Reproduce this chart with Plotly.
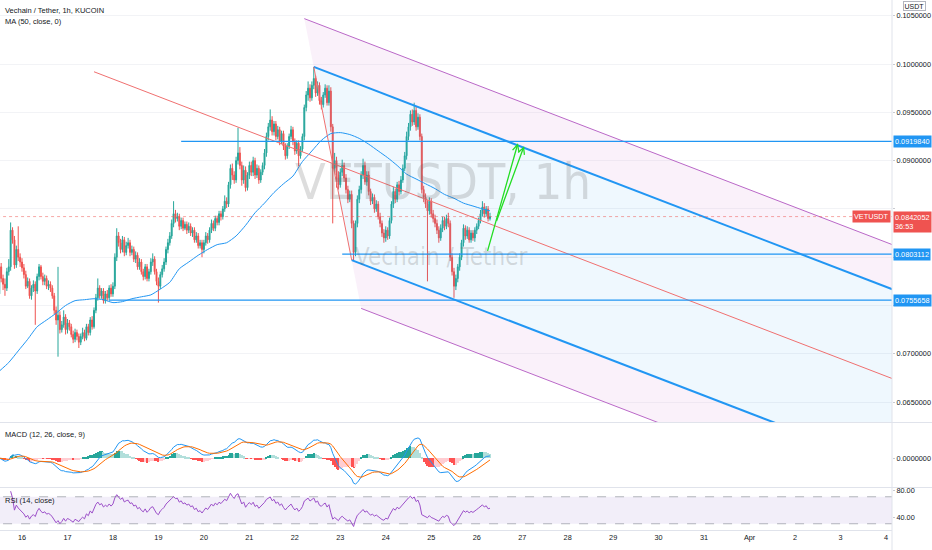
import pandas as pd
import plotly.graph_objects as go

# ---------------- data ----------------
bar_start = "2021-03-15 12:00"   # first hourly candle
first_open = 0.0762

closes = [
    0.0790, 0.0778, 0.0772, 0.0768, 0.0785, 0.0790, 0.0828, 0.0818, 0.0792, 0.0808, 0.0800, 0.0795,
    0.0789, 0.0782, 0.0770, 0.0775, 0.0760, 0.0768, 0.0772, 0.0765, 0.0780, 0.0790, 0.0780, 0.0775,
    0.0778, 0.0770, 0.0772, 0.0768, 0.0760, 0.0745, 0.0735, 0.0740, 0.0725, 0.0730, 0.0738, 0.0725,
    0.0732, 0.0728, 0.0720, 0.0715, 0.0722, 0.0718, 0.0712, 0.0718, 0.0722, 0.0716, 0.0728, 0.0722,
    0.0735, 0.0728, 0.0745, 0.0758, 0.0768, 0.0760, 0.0765, 0.0755, 0.0762, 0.0758, 0.0768, 0.0762,
    0.0770, 0.0800, 0.0822, 0.0815, 0.0808, 0.0818, 0.0805, 0.0812, 0.0815, 0.0805, 0.0808, 0.0798,
    0.0802, 0.0790, 0.0795, 0.0785, 0.0780, 0.0790, 0.0778, 0.0785, 0.0795, 0.0798, 0.0785, 0.0775,
    0.0770, 0.0782, 0.0788, 0.0795, 0.0808, 0.0815, 0.0822, 0.0835, 0.0845, 0.0840, 0.0842, 0.0832,
    0.0838, 0.0830, 0.0834, 0.0828, 0.0832, 0.0825, 0.0828, 0.0818, 0.0822, 0.0812, 0.0815, 0.0808,
    0.0815, 0.0822, 0.0818, 0.0828, 0.0835, 0.0830, 0.0840, 0.0836, 0.0845, 0.0842, 0.0850, 0.0858,
    0.0855, 0.0875, 0.0892, 0.0885, 0.0880, 0.0900, 0.0908, 0.0895, 0.0880, 0.0890, 0.0872, 0.0885,
    0.0895, 0.0888, 0.0900, 0.0885, 0.0892, 0.0880, 0.0888, 0.0895, 0.0908, 0.0925, 0.0935, 0.0942,
    0.0930, 0.0938, 0.0925, 0.0932, 0.0920, 0.0928, 0.0915, 0.0905, 0.0915, 0.0925, 0.0932, 0.0920,
    0.0910, 0.0918, 0.0905, 0.0912, 0.0925, 0.0955, 0.0968, 0.0975, 0.0965, 0.0978, 0.0985, 0.0970,
    0.0978, 0.0962, 0.0958, 0.0968, 0.0975, 0.0960, 0.0972, 0.0935, 0.0892, 0.0900, 0.0885, 0.0875,
    0.0888, 0.0895, 0.0882, 0.0870, 0.0860, 0.0865, 0.0835, 0.0805, 0.0835, 0.0860, 0.0870, 0.0885,
    0.0895, 0.0878, 0.0885, 0.0868, 0.0858, 0.0862, 0.0850, 0.0855, 0.0842, 0.0835, 0.0825, 0.0820,
    0.0828, 0.0822, 0.0838, 0.0855, 0.0868, 0.0860, 0.0875, 0.0868, 0.0880, 0.0892, 0.0905, 0.0925,
    0.0935, 0.0948, 0.0940, 0.0952, 0.0935, 0.0945, 0.0925, 0.0870, 0.0862, 0.0855, 0.0848, 0.0858,
    0.0845, 0.0840, 0.0835, 0.0828, 0.0820, 0.0830, 0.0838, 0.0832, 0.0840, 0.0835, 0.0800, 0.0785,
    0.0770, 0.0778, 0.0790, 0.0800, 0.0815, 0.0830, 0.0822, 0.0828, 0.0818, 0.0825, 0.0820, 0.0828,
    0.0832, 0.0838, 0.0845, 0.0852, 0.0845, 0.0850, 0.0840, 0.0842052,
]
highs = [
    0.0797, 0.0794, 0.0782, 0.0778, 0.0789, 0.0798, 0.0836, 0.0831, 0.0822, 0.0812, 0.0832, 0.0804,
    0.0799, 0.0793, 0.0786, 0.0779, 0.0778, 0.0771, 0.0776, 0.0775, 0.0783, 0.0793, 0.0792, 0.0784,
    0.0782, 0.0781, 0.0776, 0.0775, 0.0771, 0.0763, 0.0749, 0.0790, 0.0744, 0.0734, 0.0745, 0.0741,
    0.0736, 0.0735, 0.0731, 0.0724, 0.0726, 0.0725, 0.0721, 0.0721, 0.0727, 0.0725, 0.0731, 0.0731,
    0.0738, 0.0739, 0.0748, 0.0762, 0.0778, 0.0771, 0.0768, 0.0768, 0.0765, 0.0766, 0.0771, 0.0772,
    0.0774, 0.0804, 0.0830, 0.0826, 0.0819, 0.0822, 0.0821, 0.0816, 0.0820, 0.0818, 0.0812, 0.0811,
    0.0806, 0.0805, 0.0799, 0.0798, 0.0788, 0.0793, 0.0793, 0.0788, 0.0799, 0.0804, 0.0801, 0.0788,
    0.0779, 0.0785, 0.0792, 0.0799, 0.0811, 0.0819, 0.0826, 0.0839, 0.0858, 0.0849, 0.0846, 0.0845,
    0.0841, 0.0841, 0.0837, 0.0837, 0.0836, 0.0835, 0.0831, 0.0831, 0.0826, 0.0825, 0.0818, 0.0818,
    0.0818, 0.0826, 0.0825, 0.0831, 0.0839, 0.0838, 0.0843, 0.0843, 0.0848, 0.0848, 0.0853, 0.0864,
    0.0862, 0.0878, 0.0896, 0.0897, 0.0889, 0.0904, 0.0934, 0.0914, 0.0899, 0.0895, 0.0894, 0.0888,
    0.0899, 0.0899, 0.0904, 0.0903, 0.0896, 0.0895, 0.0891, 0.0898, 0.0912, 0.0929, 0.0939, 0.0953,
    0.0946, 0.0941, 0.0941, 0.0936, 0.0935, 0.0931, 0.0931, 0.0918, 0.0918, 0.0928, 0.0936, 0.0935,
    0.0923, 0.0921, 0.0921, 0.0915, 0.0928, 0.0958, 0.0972, 0.0982, 0.0979, 0.0982, 0.0997, 0.0988,
    0.0982, 0.0981, 0.0966, 0.0971, 0.0979, 0.0978, 0.0978, 0.0976, 0.0938, 0.0908, 0.0904, 0.0889,
    0.0892, 0.0901, 0.0898, 0.0886, 0.0874, 0.0869, 0.0869, 0.0838, 0.0838, 0.0864, 0.0874, 0.0889,
    0.0902, 0.0899, 0.0889, 0.0889, 0.0871, 0.0866, 0.0865, 0.0859, 0.0858, 0.0846, 0.0838, 0.0829,
    0.0832, 0.0831, 0.0841, 0.0858, 0.0873, 0.0871, 0.0878, 0.0879, 0.0884, 0.0896, 0.0909, 0.0930,
    0.0939, 0.0952, 0.0953, 0.0960, 0.0956, 0.0949, 0.0948, 0.0928, 0.0874, 0.0866, 0.0859, 0.0862,
    0.0861, 0.0849, 0.0844, 0.0839, 0.0832, 0.0834, 0.0842, 0.0842, 0.0844, 0.0846, 0.0838, 0.0804,
    0.0789, 0.0782, 0.0793, 0.0804, 0.0818, 0.0834, 0.0833, 0.0832, 0.0831, 0.0828, 0.0828, 0.0831,
    0.0835, 0.0841, 0.0849, 0.0858, 0.0856, 0.0853, 0.0853, 0.0846,
]
lows = [
    0.0745, 0.0774, 0.0766, 0.0760, 0.0765, 0.0781, 0.0786, 0.0814, 0.0788, 0.0789, 0.0796, 0.0790,
    0.0785, 0.0778, 0.0767, 0.0768, 0.0757, 0.0756, 0.0764, 0.0730, 0.0762, 0.0776, 0.0777, 0.0771,
    0.0771, 0.0767, 0.0766, 0.0764, 0.0757, 0.0741, 0.0730, 0.0697, 0.0721, 0.0722, 0.0727, 0.0720,
    0.0721, 0.0724, 0.0717, 0.0711, 0.0712, 0.0714, 0.0706, 0.0709, 0.0715, 0.0713, 0.0714, 0.0719,
    0.0719, 0.0725, 0.0726, 0.0742, 0.0755, 0.0757, 0.0757, 0.0752, 0.0752, 0.0755, 0.0755, 0.0759,
    0.0759, 0.0767, 0.0796, 0.0811, 0.0804, 0.0805, 0.0801, 0.0802, 0.0809, 0.0801, 0.0802, 0.0795,
    0.0794, 0.0787, 0.0787, 0.0782, 0.0776, 0.0777, 0.0775, 0.0775, 0.0782, 0.0791, 0.0782, 0.0771,
    0.0753, 0.0767, 0.0779, 0.0785, 0.0792, 0.0804, 0.0812, 0.0819, 0.0831, 0.0836, 0.0837, 0.0828,
    0.0829, 0.0827, 0.0828, 0.0824, 0.0825, 0.0822, 0.0821, 0.0815, 0.0815, 0.0809, 0.0809, 0.0800,
    0.0804, 0.0812, 0.0814, 0.0815, 0.0825, 0.0827, 0.0827, 0.0833, 0.0833, 0.0838, 0.0839, 0.0847,
    0.0851, 0.0852, 0.0871, 0.0880, 0.0876, 0.0877, 0.0896, 0.0891, 0.0874, 0.0876, 0.0868, 0.0869,
    0.0881, 0.0884, 0.0884, 0.0881, 0.0882, 0.0876, 0.0877, 0.0885, 0.0891, 0.0904, 0.0921, 0.0931,
    0.0926, 0.0926, 0.0921, 0.0922, 0.0916, 0.0917, 0.0911, 0.0901, 0.0902, 0.0912, 0.0922, 0.0916,
    0.0906, 0.0907, 0.0894, 0.0902, 0.0909, 0.0921, 0.0951, 0.0962, 0.0961, 0.0962, 0.0974, 0.0966,
    0.0967, 0.0958, 0.0953, 0.0955, 0.0965, 0.0957, 0.0957, 0.0930, 0.0835, 0.0888, 0.0872, 0.0870,
    0.0872, 0.0884, 0.0878, 0.0866, 0.0856, 0.0857, 0.0830, 0.0797, 0.0801, 0.0831, 0.0856, 0.0866,
    0.0881, 0.0875, 0.0874, 0.0864, 0.0854, 0.0855, 0.0846, 0.0847, 0.0839, 0.0831, 0.0821, 0.0815,
    0.0816, 0.0818, 0.0819, 0.0835, 0.0851, 0.0856, 0.0857, 0.0864, 0.0865, 0.0877, 0.0889, 0.0901,
    0.0921, 0.0931, 0.0936, 0.0937, 0.0931, 0.0932, 0.0921, 0.0866, 0.0857, 0.0851, 0.0775, 0.0844,
    0.0841, 0.0836, 0.0831, 0.0824, 0.0815, 0.0817, 0.0826, 0.0828, 0.0829, 0.0831, 0.0796, 0.0781,
    0.0758, 0.0766, 0.0774, 0.0786, 0.0797, 0.0811, 0.0818, 0.0819, 0.0815, 0.0815, 0.0817, 0.0816,
    0.0824, 0.0829, 0.0835, 0.0842, 0.0841, 0.0842, 0.0837, 0.0838,
]

# MA(50) line, at every 5th candle plus the last one
ma50_bars = list(range(0, 256, 5)) + [259]
ma50 = [
    0.0682, 0.0691, 0.0703, 0.0715, 0.0728, 0.0735, 0.0742, 0.0750, 0.0755, 0.0756,
    0.0757, 0.0756, 0.0753, 0.0754, 0.0757, 0.0759, 0.0761, 0.0767, 0.0774, 0.0788,
    0.0795, 0.0802, 0.0808, 0.0813, 0.0815, 0.0822, 0.0833, 0.0846, 0.0856, 0.0867,
    0.0876, 0.0884, 0.0899, 0.0910, 0.0921, 0.0928, 0.0929, 0.0927, 0.0923, 0.0917,
    0.0910, 0.0903, 0.0895, 0.0886, 0.0881, 0.0876, 0.0871, 0.0865, 0.0861, 0.0856,
    0.0853, 0.0850, 0.0848,
]

day_ticks = pd.date_range("2021-03-16", "2021-04-04", freq="D")
day_labels = ["16", "17", "18", "19", "20", "21", "22", "23", "24", "25", "26",
              "27", "28", "29", "30", "31", "Apr", "2", "3", "4"]
price_ticks = [0.065, 0.070, 0.075, 0.080, 0.085, 0.090, 0.095, 0.100, 0.105]
price_hidden = [0.075, 0.080, 0.085]   # covered by the coloured price labels

last_price = 0.0842052
countdown = "36:53"
hlevels = [0.0919840, 0.0803112, 0.0755658]
hlevel_start = ["2021-03-19 12:00", "2021-03-23 01:00", "2021-03-17 22:00"]

# Andrews pitchfork anchors
pf_times = ["2021-03-17 14:00", "2021-03-22 10:00", "2021-03-23 06:00"]
pf_prices = [0.0992, 0.0997, 0.0797]

# green arrows (tail -> head)
arrow_tail_t = ["2021-03-26 05:30", "2021-03-26 10:10"]
arrow_tail_p = [0.0805, 0.0836]
arrow_head_t = ["2021-03-26 21:45", "2021-03-27 01:00"]
arrow_head_p = [0.0918, 0.0915]

x_view = ["2021-03-15 12:23", "2021-04-04 03:11"]

# ---------------- derived ----------------
t_start = pd.Timestamp(bar_start)
times = pd.date_range(t_start, periods=len(closes), freq="h")
opens = [first_open] + closes[:-1]
ma_times = [times[i] for i in ma50_bars]

s = pd.Series(closes)
macd = s.ewm(span=12, adjust=False).mean() - s.ewm(span=26, adjust=False).mean()
signal = macd.ewm(span=9, adjust=False).mean()
hist = macd - signal
hist_cols = []
for i, h in enumerate(hist):
    prev = hist[i - 1] if i > 0 else h
    if h >= 0:
        hist_cols.append("#26a69a" if h >= prev else "#b2dfdb")
    else:
        hist_cols.append("#ff5252" if h < prev else "#ffcdd2")

d = s.diff()
gain = d.clip(lower=0).ewm(alpha=1 / 14, adjust=True, min_periods=6).mean()
loss = (-d.clip(upper=0)).ewm(alpha=1 / 14, adjust=True, min_periods=6).mean()
rsi = 100 - 100 / (1 + gain / loss)


def hrs(ts):
    return (pd.Timestamp(ts) - t_start) / pd.Timedelta(hours=1)


def at(h):
    return t_start + pd.Timedelta(hours=h)


FONT = "Liberation Sans, Arial, sans-serif"
WFONT = "DejaVu Sans Condensed, Liberation Sans, sans-serif"
BLUE = "#2196f3"
PURPLE = "#ba68c8"
RED = "#ef5350"
TEAL = "#26a69a"

fig = go.Figure()

# ---- pitchfork (fills first) ----
t1, t2, t3 = [hrs(t) for t in pf_times]
p1, p2, p3 = pf_prices
tm, pm = (t2 + t3) / 2, (p2 + p3) / 2
slope = (pm - p1) / (tm - t1)
t_far = hrs("2021-04-06")


def pf_line(k):
    ts_ = tm + k * (t2 - tm)
    ps_ = pm + k * (p2 - pm)
    return ts_, ps_, t_far, ps_ + slope * (t_far - ts_)


bands = [(1.5, 1.0, "rgba(225,170,225,0.16)"),
         (1.0, -1.0, "rgba(33,150,243,0.07)"),
         (-1.0, -1.5, "rgba(225,170,225,0.16)")]
for ka, kb, col in bands:
    a = pf_line(ka)
    b = pf_line(kb)
    fig.add_trace(go.Scatter(
        x=[at(a[0]), at(a[2]), at(b[2]), at(b[0]), at(a[0])],
        y=[a[1], a[3], b[3], b[1], a[1]],
        fill="toself", fillcolor=col, mode="none",
        hoverinfo="skip", showlegend=False))

# ---- candles ----
fig.add_trace(go.Candlestick(
    x=times, open=opens, high=highs, low=lows, close=closes,
    increasing=dict(line=dict(color=TEAL, width=1), fillcolor=TEAL),
    decreasing=dict(line=dict(color=RED, width=1), fillcolor=RED),
    whiskerwidth=0, hoverinfo="skip", showlegend=False))

# ---- MA50 ----
fig.add_trace(go.Scatter(x=ma_times, y=ma50, mode="lines",
                         line=dict(color=BLUE, width=1, shape="spline", smoothing=0.6),
                         hoverinfo="skip", showlegend=False))

# ---- pitchfork lines ----
for k, col, w in [(1.5, PURPLE, 1), (-1.5, PURPLE, 1), (1.0, BLUE, 2), (-1.0, BLUE, 2)]:
    ln = pf_line(k)
    fig.add_trace(go.Scatter(x=[at(ln[0]), at(ln[2])], y=[ln[1], ln[3]], mode="lines",
                             line=dict(color=col, width=w), hoverinfo="skip", showlegend=False))
fig.add_trace(go.Scatter(x=[at(t1), at(t_far)], y=[p1, p1 + slope * (t_far - t1)], mode="lines",
                         line=dict(color="#f07070", width=1), hoverinfo="skip", showlegend=False))
fig.add_trace(go.Scatter(x=[at(t2), at(t3)], y=[p2, p3], mode="lines",
                         line=dict(color="#f07070", width=1), hoverinfo="skip", showlegend=False))

# ---- horizontal rays ----
for lv, st in zip(hlevels, hlevel_start):
    fig.add_trace(go.Scatter(x=[pd.Timestamp(st), at(t_far)], y=[lv, lv], mode="lines",
                             line=dict(color=BLUE, width=1.2), hoverinfo="skip", showlegend=False))

# ---- last price line ----
fig.add_trace(go.Scatter(x=[pd.Timestamp("2021-03-14"), at(t_far)], y=[last_price, last_price],
                         mode="lines", line=dict(color="rgba(239,83,80,0.5)", width=1, dash="dot"),
                         hoverinfo="skip", showlegend=False))

# ---- MACD pane ----
fig.add_trace(go.Bar(x=times, y=hist, marker=dict(color=hist_cols, line=dict(width=0)),
                     width=0.55 * 3600 * 1000, yaxis="y2", hoverinfo="skip", showlegend=False))
fig.add_trace(go.Scatter(x=times, y=macd, mode="lines", line=dict(color=BLUE, width=1),
                         yaxis="y2", hoverinfo="skip", showlegend=False))
fig.add_trace(go.Scatter(x=times, y=signal, mode="lines", line=dict(color="#ff6d00", width=1),
                         yaxis="y2", hoverinfo="skip", showlegend=False))

# ---- RSI pane ----
fig.add_trace(go.Scatter(x=[pd.Timestamp("2021-03-14"), at(t_far), at(t_far), pd.Timestamp("2021-03-14")],
                         y=[70, 70, 30, 30], fill="toself", fillcolor="rgba(126,87,194,0.10)",
                         mode="none", yaxis="y3", hoverinfo="skip", showlegend=False))
for lv in (70, 30):
    fig.add_trace(go.Scatter(x=[pd.Timestamp("2021-03-14"), at(t_far)], y=[lv, lv], mode="lines",
                             line=dict(color="rgba(120,123,134,0.55)", width=1, dash="dash"),
                             yaxis="y3", hoverinfo="skip", showlegend=False))
fig.add_trace(go.Scatter(x=times, y=rsi, mode="lines", line=dict(color="#9c4fc9", width=1),
                         yaxis="y3", hoverinfo="skip", showlegend=False))

# ---- arrows ----
annotations = []
for tt, tp, ht, hp in zip(arrow_tail_t, arrow_tail_p, arrow_head_t, arrow_head_p):
    annotations.append(dict(x=ht, y=hp, ax=tt, ay=tp, xref="x", yref="y", axref="x", ayref="y",
                            showarrow=True, arrowhead=5, arrowsize=1, arrowwidth=1.3,
                            arrowcolor="#22dd22", text=""))

# ---- watermark ----
annotations.append(dict(x=0.4966, y=0.657, xref="paper", yref="paper", text="VETUSDT, 1h",
                        showarrow=False, font=dict(family=WFONT, size=50, color="rgba(100,100,100,0.22)")))
annotations.append(dict(x=0.4944, y=0.515, xref="paper", yref="paper", text="Vechain / Tether",
                        showarrow=False, font=dict(family=WFONT, size=24, color="rgba(100,100,100,0.22)")))

# ---- legends ----
def legend(text, ypix):
    return dict(x=0, xref="paper", xanchor="left", xshift=3, y=(530 - ypix) / 530, yref="paper",
                yanchor="middle", text=text, showarrow=False,
                font=dict(family=FONT, size=7.5, color="#131722"))


annotations += [legend("Vechain / Tether, 1h, KUCOIN", 11), legend("MA (50, close, 0)", 22),
                legend("MACD (12, 26, close, 9)", 434), legend("RSI (14, close)", 500)]

# ---- price axis labels ----
def plabel(price, text, bg, **kw):
    d_ = dict(x=1, xref="paper", xanchor="left", xshift=1, y=price, yref="y", yanchor="middle",
              text=text, showarrow=False, bgcolor=bg, borderpad=1, align="left",
              font=dict(family=FONT, size=7.3, color="white"))
    d_.update(kw)
    return d_


for lv in hlevels:
    annotations.append(plabel(lv, "%.7f" % lv, BLUE))
annotations.append(plabel(last_price, "%.7f<br>%s" % (last_price, countdown), RED,
                          yanchor="top", yshift=6))
annotations.append(dict(x=1, xref="paper", xanchor="right", xshift=-1, y=last_price, yref="y",
                        yanchor="middle", text="VETUSDT", showarrow=False, bgcolor=RED, borderpad=1,
                        font=dict(family=FONT, size=7.3, color="white")))
annotations.append(dict(x=1, xref="paper", xanchor="center", xshift=22, y=1, yref="paper",
                        yanchor="top", yshift=-1, text="USDT", showarrow=False, bgcolor="white",
                        bordercolor="#b2b5be", borderwidth=1, borderpad=0.5,
                        font=dict(family=FONT, size=7, color="#131722")))

# ---- axes ranges ----
macd_abs = max(abs(macd).max(), abs(signal).max())
macd_rng = [-macd_abs * 29 / 26, macd_abs * 35 / 26]

SEP = "#e0e3eb"
shapes = [
    dict(type="line", xref="paper", yref="paper", x0=0, x1=932 / 892, y0=0.2028, y1=0.2028,
         line=dict(color=SEP, width=1)),
    dict(type="line", xref="paper", yref="paper", x0=0, x1=932 / 892, y0=0.0802, y1=0.0802,
         line=dict(color=SEP, width=1)),
    dict(type="line", xref="paper", yref="paper", x0=1, x1=1, y0=-20 / 530, y1=1,
         line=dict(color=SEP, width=1)),
]

axis_font = dict(family=FONT, size=7.3, color="#131722")
fig.update_layout(
    width=932, height=550, margin=dict(l=0, r=40, t=0, b=20, autoexpand=False),
    paper_bgcolor="white", plot_bgcolor="white", showlegend=False,
    bargap=0, hovermode=False,
    xaxis=dict(range=x_view, anchor="y3", tickvals=list(day_ticks), ticktext=day_labels,
               showgrid=False, zeroline=False, rangeslider=dict(visible=False),
               showline=True, linecolor=SEP, ticks="", tickfont=axis_font, automargin=False),
    yaxis=dict(domain=[0.2038, 1], range=[0.06294, 0.10663], side="right", anchor="x",
               tickvals=price_ticks,
               ticktext=["" if v in price_hidden else "%.7f" % v for v in price_ticks],
               showgrid=True, gridcolor="#f2f3f6", zeroline=False, ticks="outside", ticklen=2,
               tickcolor="#c8cad0", tickfont=axis_font, automargin=False),
    yaxis2=dict(domain=[0.0811, 0.2019], range=macd_rng, side="right", anchor="x",
                tickvals=[0], ticktext=["0.0000000"], showgrid=False, zeroline=False,
                ticks="outside", ticklen=2, tickcolor="#c8cad0", tickfont=axis_font, automargin=False),
    yaxis3=dict(domain=[0, 0.0792], range=[20.74, 82.96], side="right", anchor="x",
                tickvals=[40, 80], ticktext=["40.00", "80.00"], showgrid=False, zeroline=False,
                ticks="outside", ticklen=2, tickcolor="#c8cad0", tickfont=axis_font, automargin=False),
    annotations=annotations, shapes=shapes,
)

fig.write_html("out.html", config={"displayModeBar": False},
               post_script="document.body.style.margin='0';document.body.style.overflow='hidden';")
